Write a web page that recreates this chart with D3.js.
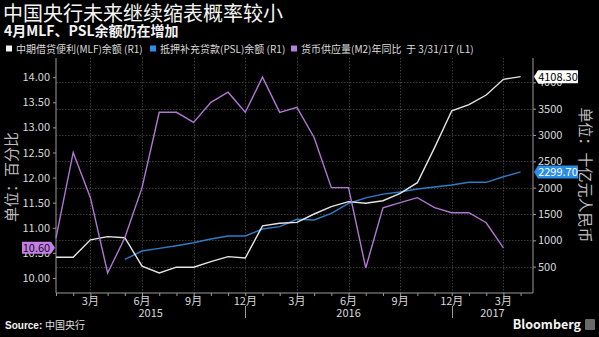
<!DOCTYPE html>
<html>
<head>
<meta charset="utf-8">
<script src="https://cdn.jsdelivr.net/npm/d3@7"></script>
<style>
  html, body { margin: 0; padding: 0; background: #000; }
  svg { display: block; }
  text { font-family: "Noto Sans CJK SC", "Liberation Sans", sans-serif; }
</style>
</head>
<body>
<svg id="chart" width="599" height="337"></svg>
<script>
// Monthly series, Jan 2015 .. Apr 2017 (month-end values)
const months = ["2015-01","2015-02","2015-03","2015-04","2015-05","2015-06","2015-07","2015-08","2015-09","2015-10","2015-11","2015-12",
                "2016-01","2016-02","2016-03","2016-04","2016-05","2016-06","2016-07","2016-08","2016-09","2016-10","2016-11","2016-12",
                "2017-01","2017-02","2017-03","2017-04"];
// MLF outstanding, billion yuan (right axis)
const mlf = [680, 680, 1010, 1070, 1050, 510, 380, 490, 490, 595, 690, 665,
             1275, 1325, 1340, 1500, 1640, 1735, 1705, 1752, 1893, 2094, 2760, 3461,
             3577, 3759, 4057, 4108.3];
// PSL outstanding, billion yuan (right axis), series begins May 2015
const psl = [null, null, null, null, 640, 797, 848, 898, 955, 1025, 1082, 1082,
             1215, 1259, 1399, 1386, 1510, 1700, 1805, 1877, 1918, 1975, 2012, 2050,
             2102, 2102, 2208, 2299.7];
// M2 money supply YoY %, (left axis), through Mar 2017
const m2 = [10.8, 12.5, 11.6, 10.1, 10.8, 11.8, 13.3, 13.3, 13.1, 13.5, 13.7, 13.3,
            14.0, 13.3, 13.4, 12.8, 11.8, 11.8, 10.2, 11.4, 11.5, 11.6, 11.4, 11.3,
            11.3, 11.1, 10.6];

const leftTicks = [10, 10.5, 11, 11.5, 12, 12.5, 13, 13.5, 14];
const rightTicks = [500, 1000, 1500, 2000, 2500, 3000, 3500, 4000];
const quarterTicks = [2, 5, 8, 11, 14, 17, 20, 23, 26];
const quarterLabels = ["3月","6月","9月","12月","3月","6月","9月","12月","3月"];
const yearLabels = ["2015", "2016", "2017"];
const yearBreaks = [11, 23];

const legendItems = [
  { label: "中期借贷便利(MLF)余额 (R1)", color: "#f2f2f2" },
  { label: "抵押补充贷款(PSL)余额 (R1)", color: "#2e8ee6" },
  { label: "货币供应量(M2)年同比  于 3/31/17 (L1)", color: "#b67fdc" }
];

const svg = d3.select("#chart");
const plot = { left: 56, right: 533, top: 58, bottom: 293 };

const x = d3.scaleLinear().domain([0, 27.72]).range([plot.left, plot.right]);
const yL = d3.scaleLinear().domain([9.701, 14.382]).range([plot.bottom, plot.top]);
const yR = d3.scaleLinear().domain([0, 4462]).range([plot.bottom, plot.top]);

svg.append("rect").attr("width", 599).attr("height", 337).attr("fill", "#000");

// Titles
svg.append("text").attr("x", 3).attr("y", 21)
  .attr("fill", "#f4f4f4").attr("font-size", 20)
  .text("中国央行未来继续缩表概率较小");
svg.append("text").attr("x", 4).attr("y", 36)
  .attr("fill", "#f4f4f4").attr("font-size", 14).attr("font-weight", "bold")
  .text("4月MLF、PSL余额仍在增加");

// Legend
const legendX = [6, 150, 291];
legendItems.forEach((d, i) => {
  const g = svg.append("g").attr("transform", `translate(${legendX[i]},49)`);
  g.append("rect").attr("x", 0).attr("y", -3.5).attr("width", 6).attr("height", 6).attr("fill", d.color);
  g.append("text").attr("x", 10).attr("y", 3.5)
    .attr("fill", "#dcdcdc").attr("font-size", 10)
    .attr("xml:space", "preserve")
    .text(d.label);
});

// Grid
const grid = svg.append("g").attr("stroke", "#3a3a3a").attr("stroke-width", 1).attr("stroke-dasharray", "1.5,1.5");
rightTicks.forEach(t => {
  grid.append("line").attr("x1", plot.left).attr("x2", plot.right)
    .attr("y1", Math.round(yR(t)) + 0.5).attr("y2", Math.round(yR(t)) + 0.5);
});
quarterTicks.forEach(t => {
  grid.append("line").attr("y1", plot.top).attr("y2", plot.bottom)
    .attr("x1", Math.round(x(t)) + 0.5).attr("x2", Math.round(x(t)) + 0.5);
});

// Axes
const axisColor = "#9a9a9a";
const leftAxis = svg.append("g").attr("transform", `translate(${plot.left},0)`)
  .call(d3.axisLeft(yL).tickValues(leftTicks).tickFormat(d3.format(".2f")).tickSize(3).tickPadding(3));
const rightAxis = svg.append("g").attr("transform", `translate(${plot.right},0)`)
  .call(d3.axisRight(yR).tickValues(rightTicks).tickFormat(d3.format("d")).tickSize(3).tickPadding(2));
const bottomAxis = svg.append("g").attr("transform", `translate(0,${plot.bottom})`)
  .call(d3.axisBottom(x).tickValues(d3.range(0, 28)).tickFormat(() => "").tickSize(3));

[leftAxis, rightAxis, bottomAxis].forEach(a => {
  a.select(".domain").attr("stroke", axisColor);
  a.selectAll(".tick line").attr("stroke", axisColor);
  a.selectAll(".tick text").attr("fill", "#d8d8d8").attr("font-size", 11)
    .attr("font-family", "'Liberation Sans', sans-serif");
});
leftAxis.select(".domain").attr("d", `M0,${plot.top}V${plot.bottom}`);
rightAxis.select(".domain").attr("d", `M0,${plot.top}V${plot.bottom}`);
bottomAxis.select(".domain").attr("d", `M${plot.left},0H${plot.right}`);

// Quarter month labels
svg.append("g").selectAll("text").data(quarterTicks).join("text")
  .attr("x", d => x(d)).attr("y", 305)
  .attr("text-anchor", "middle").attr("fill", "#d8d8d8").attr("font-size", 11)
  .text((d, i) => quarterLabels[i]);

// Year separators and labels
yearBreaks.forEach(b => {
  svg.append("line").attr("x1", Math.round(x(b)) + 0.5).attr("x2", Math.round(x(b)) + 0.5)
    .attr("y1", 306).attr("y2", 318).attr("stroke", axisColor);
});
const yearSpans = [[0, yearBreaks[0]], [yearBreaks[0], yearBreaks[1]], [yearBreaks[1], x.domain()[1]]];
svg.append("g").selectAll("text").data(yearSpans).join("text")
  .attr("x", d => x((d[0] + d[1]) / 2)).attr("y", 317)
  .attr("text-anchor", "middle").attr("fill", "#d8d8d8").attr("font-size", 11)
  .attr("font-family", "'Liberation Sans', sans-serif")
  .text((d, i) => yearLabels[i]);

// Axis titles
svg.append("text").attr("transform", `translate(17,177) rotate(-90)`)
  .attr("text-anchor", "middle").attr("fill", "#bdbdbd").attr("font-size", 15)
  .text("单位：百分比");
svg.append("text").attr("transform", `translate(580,175) rotate(90)`)
  .attr("text-anchor", "middle").attr("fill", "#bdbdbd").attr("font-size", 15)
  .text("单位：十亿元人民币");

// Lines
const lineR = d3.line().defined(d => d.v != null).x(d => x(d.i)).y(d => yR(d.v));
const lineL = d3.line().defined(d => d.v != null).x(d => x(d.i)).y(d => yL(d.v));
const toPts = arr => arr.map((v, i) => ({ i, v }));

svg.append("path").datum(toPts(psl)).attr("d", lineR)
  .attr("fill", "none").attr("stroke", "#2f7dc6").attr("stroke-width", 1.4);
svg.append("path").datum(toPts(mlf)).attr("d", lineR)
  .attr("fill", "none").attr("stroke", "#e6e6e6").attr("stroke-width", 1.4);
svg.append("path").datum(toPts(m2)).attr("d", lineL)
  .attr("fill", "none").attr("stroke", "#b276d4").attr("stroke-width", 1.4);

// Last-value tags
function tagRight(yv, label, fill, textColor) {
  const y0 = yv, h = 13, x0 = plot.right + 1, w = 44;
  svg.append("path")
    .attr("d", `M${x0},${y0} L${x0 + 4},${y0 - h / 2} H${x0 + w} V${y0 + h / 2} H${x0 + 4} Z`)
    .attr("fill", fill);
  svg.append("text").attr("x", x0 + 4 + (w - 4) / 2).attr("y", y0 + 4)
    .attr("text-anchor", "middle").attr("fill", textColor).attr("font-size", 11)
    .attr("font-family", "'Liberation Sans', sans-serif")
    .text(label);
}
tagRight(yR(mlf[mlf.length - 1]), d3.format(".2f")(mlf[mlf.length - 1]), "#ffffff", "#000");
tagRight(yR(psl[psl.length - 1]), d3.format(".2f")(psl[psl.length - 1]), "#2a8de6", "#fff");

(function tagLeft() {
  const v = m2[m2.length - 1];
  const y0 = yL(v), h = 12, x1 = plot.left - 1, w = 33;
  svg.append("path")
    .attr("d", `M${x1},${y0} L${x1 - 4},${y0 - h / 2} H${x1 - w} V${y0 + h / 2} H${x1 - 4} Z`)
    .attr("fill", "#c381e6");
  svg.append("text").attr("x", x1 - 4 - (w - 4) / 2).attr("y", y0 + 4)
    .attr("text-anchor", "middle").attr("fill", "#1a0622").attr("font-size", 11)
    .attr("font-family", "'Liberation Sans', sans-serif")
    .text(d3.format(".2f")(v));
})();

// Footer
const src = svg.append("text").attr("x", 5).attr("y", 329).attr("font-size", 10);
src.append("tspan").attr("fill", "#f2f2f2").attr("font-weight", "bold")
  .attr("font-family", "'Liberation Sans', sans-serif").text("Source: ");
src.append("tspan").attr("fill", "#e0e0e0").text("中国央行");

svg.append("text").attr("x", 581).attr("y", 329).attr("text-anchor", "end")
  .attr("fill", "#f4f4f4").attr("font-size", 12.5).attr("font-weight", "bold")
  .attr("font-family", "'Liberation Sans', sans-serif")
  .text("Bloomberg");
svg.append("rect").attr("x", 585).attr("y", 319).attr("width", 10).attr("height", 11)
  .attr("rx", 1).attr("fill", "#6a6a6a");
</script>
</body>
</html>
